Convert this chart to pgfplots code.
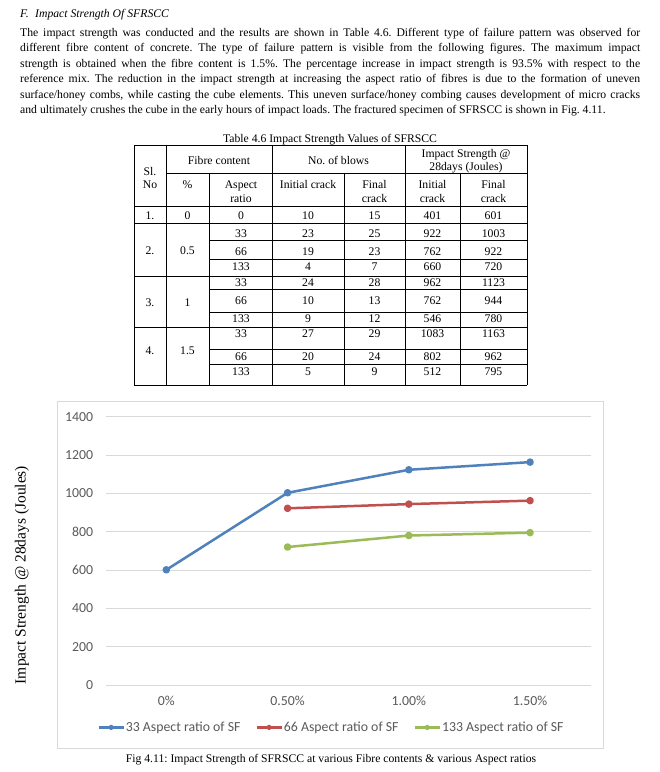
\documentclass[border=0pt]{standalone}
\usepackage{fontspec}
\setmainfont{Liberation Serif}
\newfontfamily\calibri{Carlito}
\usepackage{pgfplots}
\pgfplotsset{compat=1.18}

\definecolor{sfblue}{HTML}{4F81BD}
\definecolor{sfred}{HTML}{C0504D}
\definecolor{sfgreen}{HTML}{9BBB59}
\definecolor{gridgrey}{HTML}{D9D9D9}
\definecolor{ticktext}{HTML}{595959}

\newcommand\bodyfont{\fontsize{11.7}{13}\selectfont}
\newcommand\chartfont{\calibri\fontsize{13.8}{13.8}\selectfont}

\begin{document}
\frenchspacing
\begin{tikzpicture}
\useasboundingbox (0pt,0pt) rectangle (660pt,-772pt);
\begin{scope}[x=1pt,y=1pt]
% section text
\node[anchor=base west, inner sep=0, font=\bodyfont\itshape] at (20,-17) {F.};
\node[anchor=base west, inner sep=0, font=\bodyfont\itshape] at (35,-17) {Impact Strength Of SFRSCC};
\foreach \yy/\txt in {
  32.5/{The impact strength was conducted and the results are shown in Table 4.6. Different type of failure pattern was observed for},
  48/{different fibre content of concrete. The type of failure pattern is visible from the following figures. The maximum impact},
  63.5/{strength is obtained when the fibre content is 1.5\%. The percentage increase in impact strength is 93.5\% with respect to the},
  79/{reference mix. The reduction in the impact strength at increasing the aspect ratio of fibres is due to the formation of uneven},
  94.5/{surface/honey combs, while casting the cube elements. This uneven surface/honey combing causes development of micro cracks}}
  \node[anchor=base west, inner sep=0, font=\bodyfont] at (20,-\yy-3.5) {\makebox[620pt][s]{\txt}};
\node[anchor=base west, inner sep=0, font=\bodyfont] at (20,-113.5) {and ultimately crushes the cube in the early hours of impact loads. The fractured specimen of SFRSCC is shown in Fig. 4.11.};

% table
\node[anchor=base, inner sep=0, font=\bodyfont] at (330,-142) {Table 4.6 Impact Strength Values of SFRSCC};
\begin{scope}[line width=0.75pt]
  \foreach \yy in {145,206,223,276,327,385} \draw (134,-\yy) -- (527,-\yy);
  \draw (166,-173) -- (527,-173);
  \foreach \yy in {240,259,289,312,349,364} \draw (209,-\yy) -- (527,-\yy);
  \foreach \xx in {134,166,272.5,405,527} \draw (\xx,-145) -- (\xx,-385);
  \foreach \xx in {209,344,460} \draw (\xx,-173) -- (\xx,-385);
\end{scope}
\begin{scope}[every node/.style={anchor=base, inner sep=0, font=\bodyfont}]
  \node at (150,-175) {Sl.};
  \node at (150,-188) {No};
  \node at (219,-164) {Fibre content};
  \node at (338.5,-164) {No. of blows};
  \node at (466,-157) {Impact Strength @};
  \node at (466,-170) {28days (Joules)};
  \node at (187.5,-188) {\%};
  \node at (241,-188) {Aspect};
  \node at (241,-202) {ratio};
  \node at (308,-188) {Initial crack};
  \node at (374.5,-188) {Final};
  \node at (374.5,-202) {crack};
  \node at (432.5,-188) {Initial};
  \node at (432.5,-202) {crack};
  \node at (493.5,-188) {Final};
  \node at (493.5,-202) {crack};
  \node at (150,-219) {1.};
  \node at (187.5,-219) {0};
  \node at (150,-254) {2.};
  \node at (187.5,-254) {0.5};
  \node at (150,-306.5) {3.};
  \node at (187.5,-306.5) {1};
  \node at (150,-354) {4.};
  \node at (187.5,-354) {1.5};
  \foreach \yy/\a/\b/\c/\d/\e in {
      215/0/10/15/401/601,
      233/33/23/25/922/1003, 251.5/66/19/23/762/922, 266.5/133/4/7/660/720,
      282/33/24/28/962/1123, 300/66/10/13/762/944, 318/133/9/12/546/780,
      333.5/33/27/29/1083/1163, 356.5/66/20/24/802/962, 371.5/133/5/9/512/795} {
    \node at (241,-\yy-4) {\a};
    \node at (308,-\yy-4) {\b};
    \node at (374.5,-\yy-4) {\c};
    \node at (432.5,-\yy-4) {\d};
    \node at (493.5,-\yy-4) {\e};
  }
\end{scope}

% chart frame and caption
\draw[gridgrey, line width=0.75pt] (57,-401.7) rectangle (603.3,-748.3);
\node[anchor=base, inner sep=0, font=\bodyfont] at (331,-762) {Fig 4.11: Impact Strength of SFRSCC at various Fibre contents \& various Aspect ratios};
\end{scope}

\begin{axis}[
  at={(105.7pt,-685pt)}, anchor=south west,
  scale only axis, width=485pt, height=268.3pt,
  xmin=-0.5, xmax=3.5, ymin=0, ymax=1400,
  xtick={0,1,2,3}, xticklabels={0\%,0.50\%,1.00\%,1.50\%},
  ytick={0,200,...,1400},
  axis line style={draw=none},
  major tick length=0pt,
  ymajorgrids, grid style={gridgrey, line width=0.75pt},
  ticklabel style={font=\chartfont, text=ticktext},
  xticklabel style={yshift=-8pt},
  yticklabel style={xshift=-9pt},
  /pgf/number format/assume math mode=true,
  /pgf/number format/1000 sep={},
  ylabel={Impact Strength @ 28days (Joules)},
  ylabel style={at={(axis description cs:-0.1726,0.41)}, anchor=center, font=\fontsize{15.5}{15.5}\selectfont},
  legend style={at={(axis description cs:0.4645,-0.158)}, anchor=center, draw=none, fill=none,
    font=\chartfont, text=ticktext, legend columns=3,
    /tikz/every even column/.append style={column sep=14pt}, nodes={inner xsep=1pt}},
  legend image code/.code={\draw[mark repeat=2,mark phase=2,#1,mark size=1.6pt] plot coordinates {(0pt,0pt)(12.5pt,0pt)(25pt,0pt)};},
  every axis plot/.append style={line width=2.5pt, line join=round, mark=*, mark size=2.5pt},
]
\addplot[sfblue, mark options={fill=sfblue}] coordinates {(0,601) (1,1003) (2,1123) (3,1163)};
\addlegendentry{33 Aspect ratio of SF}
\addplot[sfred, mark options={fill=sfred}] coordinates {(1,922) (2,944) (3,962)};
\addlegendentry{66 Aspect ratio of SF}
\addplot[sfgreen, mark options={fill=sfgreen}] coordinates {(1,720) (2,780) (3,795)};
\addlegendentry{133 Aspect ratio of SF}
\end{axis}
\end{tikzpicture}
\end{document}
